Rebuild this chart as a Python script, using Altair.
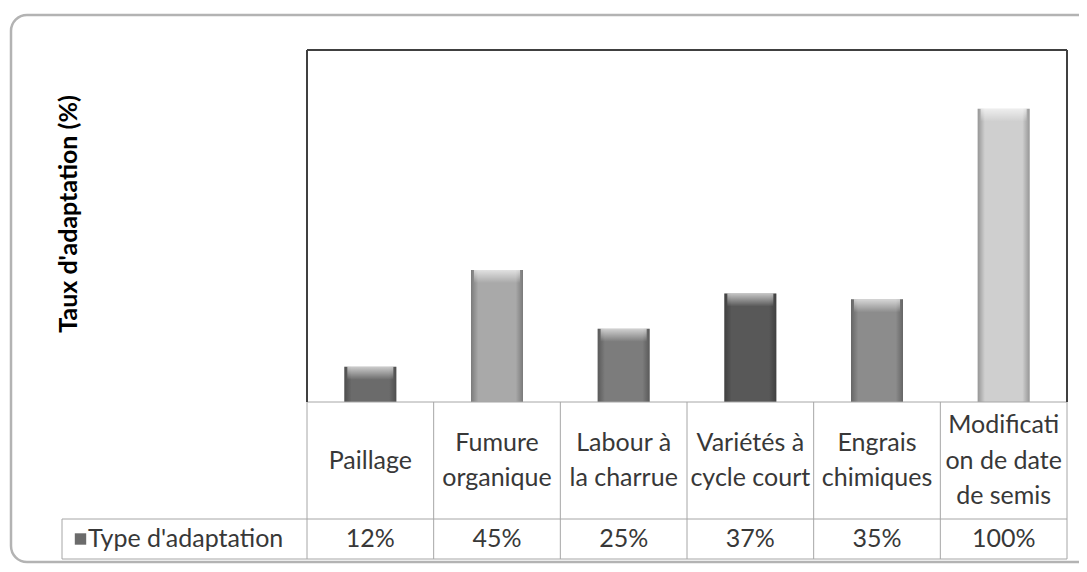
import altair as alt
import pandas as pd

# ---- data ----
categories = ["Paillage", "Fumure organique", "Labour à la charrue",
              "Variétés à cycle court", "Engrais chimiques",
              "Modification de date de semis"]
table_labels = ["Paillage", "Fumure\norganique", "Labour à\nla charrue",
                "Variétés à\ncycle court", "Engrais\nchimiques",
                "Modificati\non de date\nde semis"]
values = [12, 45, 25, 37, 35, 100]
value_labels = ["12%", "45%", "25%", "37%", "35%", "100%"]
series_name = "Type d'adaptation"
y_title = "Taux d'adaptation (%)"
bar_colors = ["#6b6b6b", "#a9a9a9", "#7c7c7c", "#585858", "#8c8c8c", "#cfcfcf"]

df = pd.DataFrame({"cat": categories, "v": values, "vl": value_labels})
one = pd.DataFrame({"t": [series_name]})

# one row per text line of the table header cells
line_rows = []
for cat, lab in zip(categories, table_labels):
    parts = lab.split("\n")
    n = len(parts)
    for i, p in enumerate(parts):
        line_rows.append({"cat": cat, "line": p, "k": i - (n - 1) / 2})
lines_df = pd.DataFrame(line_rows)

W, H = 760, 352
FONT = "Lato"
TXT = "#383838"
GRID = "#a6a6a6"
DARK = "#404040"
LH = 35.5

xscale = alt.Scale(domain=categories, paddingInner=0, paddingOuter=0)
xenc = alt.X("cat:N", sort=categories, scale=xscale, axis=None)
yscale = alt.Scale(domain=[0, 120], nice=False)
yenc = alt.Y("v:Q", scale=yscale, axis=None)

base = alt.Chart(df)
single = alt.Chart(one)

border = single.mark_rect(fillOpacity=0, stroke="#b3b3b3", strokeWidth=2.5,
                          cornerRadius=16).encode(
    x=alt.value(-296), x2=alt.value(800), y=alt.value(-35), y2=alt.value(512))

bars = base.mark_bar(size=52).encode(
    x=xenc, y=yenc,
    color=alt.Color("cat:N", scale=alt.Scale(domain=categories, range=bar_colors),
                    legend=None))

side_grad = alt.LinearGradient(
    gradient="linear", x1=0, x2=1, y1=0, y2=0,
    stops=[alt.GradientStop(offset=0, color="rgba(0,0,0,0.28)"),
           alt.GradientStop(offset=0.14, color="rgba(0,0,0,0)"),
           alt.GradientStop(offset=0.86, color="rgba(0,0,0,0)"),
           alt.GradientStop(offset=1, color="rgba(0,0,0,0.28)")])
shade = base.mark_bar(size=52, fill=side_grad).encode(x=xenc, y=yenc)

top_grad = alt.LinearGradient(
    gradient="linear", x1=0, x2=0, y1=0, y2=1,
    stops=[alt.GradientStop(offset=0, color="rgba(255,255,255,0.65)"),
           alt.GradientStop(offset=1, color="rgba(255,255,255,0)")])
bevel = base.mark_bar(size=46, fill=top_grad, y2Offset=13).encode(
    x=xenc, y=yenc, y2="v:Q")

def hrule(y, x1, x2, color, sw):
    return single.mark_rule(color=color, strokeWidth=sw).encode(
        x=alt.value(x1), x2=alt.value(x2), y=alt.value(y))

def vrule(x, y1, y2, color, sw):
    return single.mark_rule(color=color, strokeWidth=sw).encode(
        x=alt.value(x), y=alt.value(y1), y2=alt.value(y2))

ROW1 = 469
ROW2 = 509
LEFT = -245

table_lines = [
    hrule(H, 0, W, GRID, 1),
    hrule(ROW1, LEFT, W, GRID, 1),
    hrule(ROW2, LEFT, W, GRID, 1),
    vrule(LEFT, ROW1, ROW2, GRID, 1),
    vrule(W, H, ROW2, GRID, 1),
    base.mark_rule(color=GRID, strokeWidth=1).encode(
        x=alt.X("cat:N", sort=categories, bandPosition=0, scale=xscale, axis=None),
        y=alt.value(H), y2=alt.value(ROW2)),
]
plot_frame = [
    hrule(0, 0, W, DARK, 2),
    vrule(0, 0, H, DARK, 2),
    vrule(W, 0, H, DARK, 2),
]

cat_layers = []
for k in sorted(set(lines_df["k"])):
    cat_layers.append(
        alt.Chart(lines_df).transform_filter(alt.datum.k == k).mark_text(
            font=FONT, fontSize=25, color=TXT, baseline="middle", dy=k * LH
        ).encode(x=xenc, y=alt.value((H + ROW1) / 2), text="line:N"))

val_text = base.mark_text(font=FONT, fontSize=25, color=TXT,
                          baseline="middle").encode(
    x=xenc, y=alt.value((ROW1 + ROW2) / 2), text="vl:N")
leg_sq = single.mark_square(size=130, color="#6b6b6b", opacity=1, filled=True).encode(
    x=alt.value(-226.5), y=alt.value((ROW1 + ROW2) / 2))
leg_text = single.mark_text(font=FONT, fontSize=25, color=TXT, align="left",
                            baseline="middle").encode(
    x=alt.value(-219), y=alt.value((ROW1 + ROW2) / 2), text="t:N")
ytitle = single.mark_text(font=FONT, fontSize=25, fontWeight="bold", color="#000000",
                          angle=270, baseline="middle", align="center").encode(
    x=alt.value(-238), y=alt.value(164), text=alt.value(y_title))

chart = alt.layer(
    border, bars, shade, bevel, *table_lines, *plot_frame,
    *cat_layers, val_text, leg_sq, leg_text, ytitle
).properties(
    width=W, height=H,
    autosize=alt.AutoSizeParams(type="none"),
    padding={"left": 299, "top": 42, "right": 12, "bottom": 162},
    background="white",
).configure_view(stroke=None)

chart.save("out.html", embed_options={"renderer": "svg", "actions": False})
